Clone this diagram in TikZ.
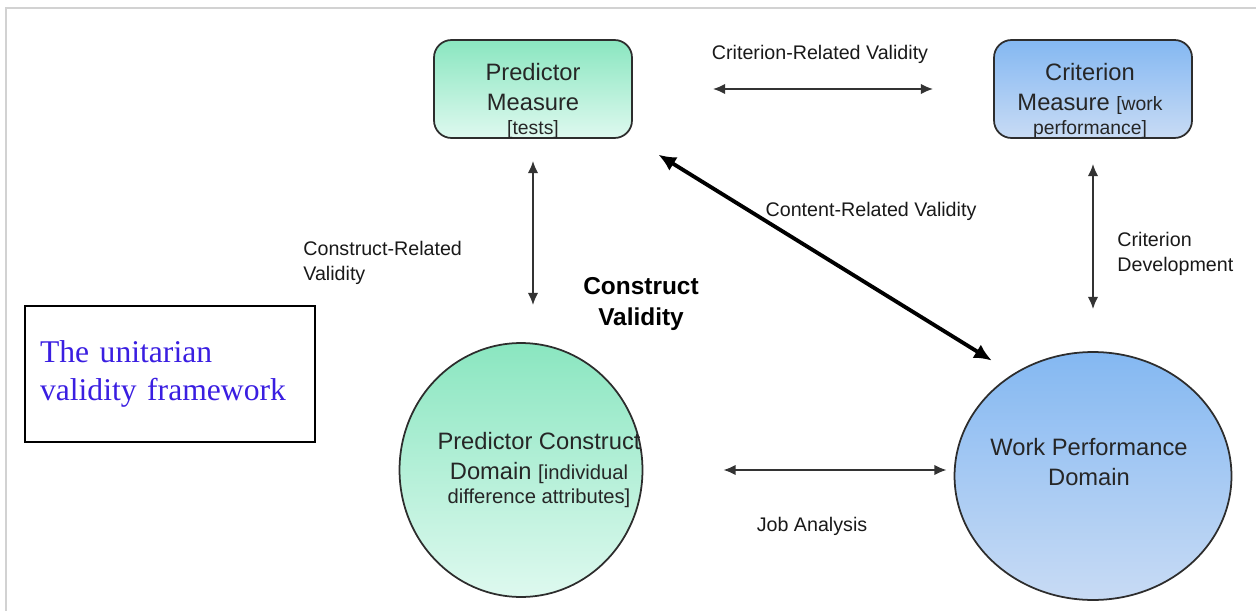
\documentclass[tikz,border=0pt]{standalone}
\usepackage{fontspec}
\setmainfont{Liberation Sans}
\newfontfamily\framefont{Liberation Serif}
\usetikzlibrary{shapes.geometric,arrows.meta,shadings}

\definecolor{greentop}{RGB}{138,230,192}
\definecolor{greenbot}{RGB}{222,249,239}
\definecolor{bluetop}{RGB}{132,184,242}
\definecolor{bluebot}{RGB}{200,219,244}
\definecolor{frameblue}{RGB}{58,30,225}
\definecolor{edgegray}{RGB}{45,45,45}

\tikzset{
    measurebox/.style={draw=edgegray, line width=1pt, rounded corners=0.35cm,
        minimum width=3.96cm, minimum height=1.96cm},
    domaincircle/.style={ellipse, draw=edgegray, line width=1pt},
    greenfill/.style={top color=greentop, bottom color=greenbot},
    bluefill/.style={top color=bluetop, bottom color=bluebot},
    boxtext/.style={align=center, inner sep=0pt, text=black!85,
        font=\fontsize{13.5}{17}\selectfont},
    smalllabel/.style={align=left, inner sep=0pt, text=black!90,
        font=\fontsize{11.2}{14.2}\selectfont},
    relation/.style={line width=1.1pt, draw=black!80,
        {Latex[length=7pt,width=6pt]}-{Latex[length=7pt,width=6pt]}},
    mainrelation/.style={line width=2.2pt,
        {Latex[length=10pt,width=9pt]}-{Latex[length=10pt,width=9pt]}}
}

\begin{document}
\begin{tikzpicture}[x=0.02cm, y=-0.02cm]
    \useasboundingbox (0,0) rectangle (1256,611);
    \draw[gray!35, line width=0.8pt] (6,611) -- (6,8) -- (1256,8);

    % Measures
    \node[measurebox, greenfill] (pm) at (533,89) {};
    \node[boxtext] (pmtext) at (533,101)
        {Predictor\\Measure\\[-3pt]{\fontsize{11}{13}\selectfont [tests]}};
    \node[measurebox, bluefill] (cm) at (1093,89) {};
    \node[boxtext] (cmtext) at (1090,101)
        {Criterion\\Measure {\fontsize{11}{13}\selectfont [work}\\[-3pt]
         {\fontsize{11}{13}\selectfont performance]}};

    % Domains
    \node[domaincircle, greenfill, minimum width=4.86cm, minimum height=5.08cm]
        (pcd) at (521,470) {};
    \node[boxtext] (pcdtext) at (539,470)
        {Predictor Construct\\Domain {\fontsize{11.5}{14}\selectfont [individual}\\[-3pt]
         {\fontsize{11.5}{14}\selectfont difference attributes]}};
    \node[domaincircle, bluefill, minimum width=5.54cm, minimum height=4.96cm]
        (wpd) at (1093,476) {};
    \node[boxtext] (wpdtext) at (1089,462) {Work Performance\\Domain};

    % Framework box
    \node[draw, line width=1.5pt, minimum height=2.72cm, text width=5.2cm,
        inner xsep=0.3cm, align=left, text=frameblue,
        font=\framefont\fontsize{18}{22}\selectfont] (uvf) at (170,374)
        {The unitarian\\validity framework};

    % Relations
    \draw[relation, shorten <=1.6cm, shorten >=1.2cm] (pm.east) -- (cm.west);
    \draw[relation, shorten <=0.44cm, shorten >=0.74cm] (pm.south) -- (pm.south |- pcd.north);
    \draw[relation, shorten <=0.5cm, shorten >=0.84cm] (cm.south) -- (cm.south |- wpd.north);
    \draw[mainrelation, shorten <=0.6cm, shorten >=0.5cm] (pm.south east) -- (wpd.128);
    \draw[relation, shorten <=1.6cm, shorten >=0.14cm] (pcd.east) -- (pcd.east -| wpd.west);

    % Labels
    \node[smalllabel] (crv) at (820,54) {Criterion-Related Validity};
    \node[smalllabel, anchor=west] (corv) at (303,263) {Construct-Related\\Validity};
    \node[smalllabel, anchor=west] (cdev) at (1117,254) {Criterion\\Development};
    \node[smalllabel] (ctrv) at (871,211) {Content-Related Validity};
    \node[smalllabel] (ja) at (812,526) {Job Analysis};
    \node[align=center, inner sep=0pt, font=\bfseries\fontsize{13.9}{18}\selectfont]
        (cv) at (641,304) {Construct\\Validity};
\end{tikzpicture}
\end{document}
